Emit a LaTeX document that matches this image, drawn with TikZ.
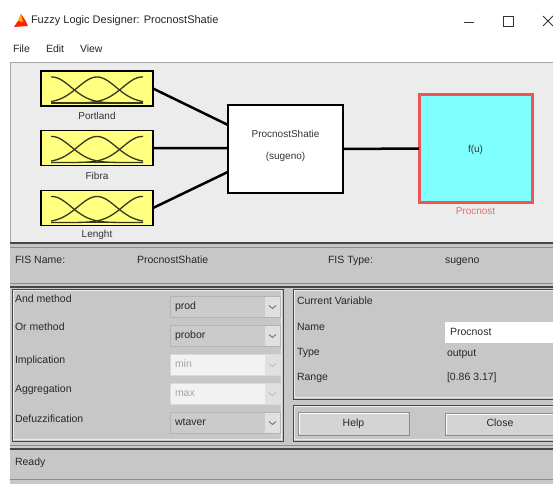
\documentclass[tikz,border=0pt]{standalone}
\usepackage{fontspec}
\setmainfont{Liberation Sans}
\usetikzlibrary{calc}
\definecolor{paneltop}{RGB}{236,236,236}
\definecolor{panelbot}{RGB}{199,199,199}
\definecolor{uitext}{RGB}{40,40,40}
\definecolor{distext}{RGB}{165,165,165}
\definecolor{ddgray}{RGB}{203,203,203}
\definecolor{ddedge}{RGB}{180,180,180}
\definecolor{ddwhite}{RGB}{242,242,242}
\definecolor{ddwedge}{RGB}{218,218,218}
\definecolor{arrowbg}{RGB}{224,224,224}
\definecolor{mfyellow}{RGB}{255,255,128}
\definecolor{outcyan}{RGB}{128,255,255}
\definecolor{outred}{RGB}{240,85,85}
\definecolor{outlbl}{RGB}{228,110,110}
\definecolor{darkline}{RGB}{70,70,70}
\definecolor{lightline}{RGB}{235,235,235}
\definecolor{mfline}{RGB}{55,55,25}
\begin{document}
\begin{tikzpicture}[x=1pt,y=-1pt,
  every node/.style={inner sep=0pt, outer sep=0pt},
  uitxt/.style={font=\fontsize{10.5}{12}\selectfont, text=uitext, anchor=west, text height=7.6pt, text depth=2.2pt},
  diagtxt/.style={font=\fontsize{10}{12}\selectfont, text=black!80, text height=7.2pt, text depth=2.1pt},
  inbox/.style={draw=black, line width=1.5pt, fill=mfyellow, minimum width=112pt, minimum height=35pt},
  fisbox/.style={draw=black, line width=2pt, fill=white, minimum width=115pt, minimum height=88pt},
  outbox/.style={draw=outred, line width=3pt, fill=outcyan, minimum width=113pt, minimum height=107pt},
  conn/.style={draw=black, line width=2.5pt},
  mfcurve/.style={draw=mfline, line width=1.3pt},
  ddon/.style={draw=ddedge, fill=ddgray, line width=0.8pt, minimum width=110pt, minimum height=21pt, text width=100pt, inner xsep=5pt, align=left, font=\fontsize{10.5}{12}\selectfont, text=uitext, text height=7.6pt, text depth=2.2pt},
  ddoff/.style={ddon, draw=ddwedge, fill=ddwhite, text=distext},
  chevon/.style={draw=black!55, line width=0.9pt},
  chevoff/.style={draw=black!25, line width=0.9pt},
  btn/.style={draw=black!45, fill=black!17, line width=0.8pt, font=\fontsize{10.5}{12}\selectfont, text=uitext, text height=7.6pt, text depth=2.2pt},
  boxedge/.style={draw=darkline, line width=1pt},
  boxhi/.style={draw=lightline, line width=0.8pt},
  sepdark/.style={draw=darkline, line width=1.2pt},
  seplight/.style={draw=black!45, line width=1pt}
]
\useasboundingbox (0,0) rectangle (553,484);
\fill[white] (0,0) rectangle (553,484);

% ---------- title bar ----------
\fill[red!75!orange] (14,27) -- (18,21) -- (21,14) -- (25,20) -- (28,26) -- cycle;
\fill[orange!60!yellow] (18,21) -- (21,14) -- (23,22) -- cycle;
\node[anchor=west, font=\fontsize{11}{13}\selectfont, text=black!85] (title) at (31,21) {Fuzzy Logic Designer: ProcnostShatie};
\draw[black!80, line width=0.8pt] (464,22) -- (474,22);
\draw[black!80, line width=0.8pt] (503,16) rectangle (513,26);
\draw[black!80, line width=0.8pt] (543,16) -- (553,26) (543,26) -- (553,16);

% ---------- menu ----------
\node[uitxt, text=black!85] (mfile) at (13,50) {File};
\node[uitxt, text=black!85] (medit) at (46,50) {Edit};
\node[uitxt, text=black!85] (mview) at (80,50) {View};

% ---------- diagram panel ----------
\fill[paneltop] (10,62) rectangle (553,242);
\draw[black!35, line width=0.8pt] (10,242) -- (10,62) -- (553,62);

\node[inbox] (in1) at (97,88.5) {};
\node[inbox] (in2) at (97,148) {};
\node[inbox] (in3) at (97,208) {};
\foreach \b in {in1,in2,in3}{
  \begin{scope}[shift={(\b.north west)}]
    \draw[mfcurve] plot[domain=10:102, samples=60, smooth] (\x, {32-26*exp(-((\x-11)^2)/729.6)});
    \draw[mfcurve] plot[domain=10:102, samples=60, smooth] (\x, {32-26*exp(-((\x-56)^2)/729.6)});
    \draw[mfcurve] plot[domain=10:102, samples=60, smooth] (\x, {32-26*exp(-((\x-101)^2)/729.6)});
    \draw[mfcurve, line width=1.5pt] (10,32) -- (102,32);
  \end{scope}
}
\node[diagtxt] (l1) at (97,117) {Portland};
\node[diagtxt] (l2) at (97,177) {Fibra};
\node[diagtxt] (l3) at (97,235) {Lenght};

\node[fisbox] (fis) at (285.5,149) {};
\node[diagtxt] (fisname) at (285.5,135) {ProcnostShatie};
\node[diagtxt] (fistype) at (285.5,157) {(sugeno)};

\node[outbox] (out) at (475.5,148.5) {};
\node[diagtxt] (fu) at (475.5,150) {f(u)};
\node[diagtxt, text=outlbl] (outl) at (475.5,212) {Procnost};

\draw[conn] (in1.east) -- ($(fis.north west)!0.227!(fis.south west)$);
\draw[conn] (in2.east) -- ($(fis.north west)!0.49!(fis.south west)$);
\draw[conn] (in3.east) -- ($(fis.north west)!0.76!(fis.south west)$);
\draw[conn] (fis.east) -- (out.west);

% ---------- lower panel ----------
\fill[panelbot] (10,242) rectangle (553,484);
\draw[sepdark] (10,243) -- (553,243);
\draw[seplight] (10,247.5) -- (553,247.5);
\node[uitxt] (fisn) at (15,261) {FIS Name:};
\node[uitxt] (fisnv) at (137,261) {ProcnostShatie};
\node[uitxt] (fist) at (328,261) {FIS Type:};
\node[uitxt] (fistv) at (445,261) {sugeno};
\draw[seplight] (10,283) -- (553,283);
\draw[sepdark] (10,287) -- (553,287);

% left box
\draw[boxhi] (13.5,290.5) rectangle (281.5,439.5);
\draw[boxedge] (12,289) rectangle (283,441);
\node[uitxt] (andl) at (15,300) {And method};
\node[uitxt] (orl) at (15,328) {Or method};
\node[uitxt] (impl) at (15,361) {Implication};
\node[uitxt] (aggl) at (15,390) {Aggregation};
\node[uitxt] (defl) at (15,420) {Defuzzification};

\node[ddon] (andm) at (225,307) {prod};
\node[ddon] (orm) at (225,336) {probor};
\node[ddoff] (imm) at (225,365) {min};
\node[ddoff] (agm) at (225,394) {max};
\node[ddon] (dfm) at (225,423) {wtaver};
\foreach \n/\c in {andm/chevon, orm/chevon, imm/chevoff, agm/chevoff, dfm/chevon}{
  \fill[arrowbg] ($(\n.north east)+(-15,0.5)$) rectangle ($(\n.south east)+(-0.5,-0.5)$);
  \draw[\c] ($(\n.east)+(-11,-1.5)$) -- ($(\n.east)+(-7.5,1.5)$) -- ($(\n.east)+(-4,-1.5)$);
}

% right box: current variable
\draw[boxhi] (294.5,290.5) rectangle (553,397.5);
\draw[boxedge] (293,289) -- (553,289) (293,289) -- (293,399) -- (553,399);
\node[uitxt] (cvl) at (297,302) {Current Variable};
\node[uitxt] (namel) at (297,328) {Name};
\node[uitxt] (typel) at (297,353) {Type};
\node[uitxt] (rangel) at (297,378) {Range};
\fill[white] (445,322) rectangle (553,343);
\node[uitxt] (namev) at (450,333) {Procnost};
\node[uitxt] (typev) at (447,354) {output};
\node[uitxt] (rangev) at (447,378) {[0.86 3.17]};

% right box: buttons
\draw[boxhi] (294.5,406.5) rectangle (553,439.5);
\draw[boxedge] (293,405) -- (553,405) (293,405) -- (293,441) -- (553,441);
\node[btn, minimum width=111pt, minimum height=23pt] (help) at (353.5,423.5) {Help};
\node[btn, minimum width=110pt, minimum height=22pt] (close) at (500,424) {Close};
\draw[white, line width=1pt] ($(help.south west)+(1,-1)$) -- ($(help.north west)+(1,1)$) -- ($(help.north east)+(-1,1)$);
\draw[white, line width=1pt] ($(close.south west)+(1,-1)$) -- ($(close.north west)+(1,1)$) -- ($(close.north east)+(-1,1)$);

% status bar
\draw[seplight] (10,445) -- (553,445);
\draw[sepdark] (10,449) -- (553,449);
\node[uitxt] (ready) at (15,463) {Ready};
\draw[black!45, line width=1pt] (10,479) -- (553,479);
\end{tikzpicture}
\end{document}
